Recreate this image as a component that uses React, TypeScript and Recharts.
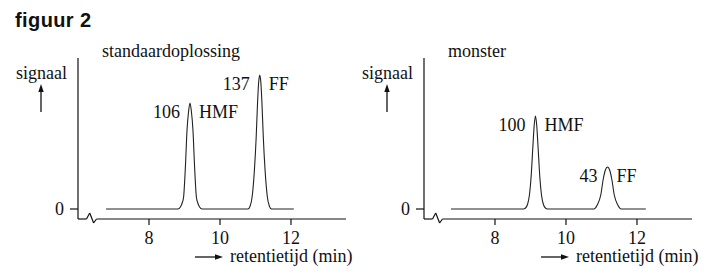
import { LineChart, Line, XAxis, YAxis, ReferenceLine, ReferenceDot } from "recharts"

const SERIF = '"Liberation Serif", "Times New Roman", serif'
const INK = "#111"

const stdTime = [
  6.79, 8.815, 8.885, 8.935, 8.975, 9.028, 9.07, 9.12, 9.155, 9.19, 9.24, 9.282, 9.335, 9.375, 9.425, 9.495,
  10.79, 10.85, 10.905, 10.97, 11.02, 11.058, 11.09, 11.12, 11.15, 11.182, 11.22, 11.27, 11.335, 11.39, 11.45, 12.08,
]
const stdSignal = [
  0, 0, 2, 6, 12, 44, 78, 99, 106, 99, 78, 44, 12, 6, 2, 0,
  0, 3, 12, 39, 72, 106, 127, 134, 127, 106, 72, 39, 12, 3, 0, 0,
]

const monTime = [
  6.76, 8.8, 8.86, 8.92, 8.97, 9.013, 9.07, 9.105, 9.14, 9.175, 9.21, 9.267, 9.31, 9.36, 9.42, 9.48,
  10.785, 10.88, 10.98, 11.05, 11.11, 11.17, 11.23, 11.29, 11.36, 11.46, 11.555, 12.25,
]
const monSignal = [
  0, 0, 1, 5, 14, 30, 64, 84, 93, 84, 64, 30, 14, 5, 1, 0,
  0, 4, 14, 30, 39, 42, 39, 30, 14, 4, 0, 0,
]

const peakNames = ["HMF", "FF"]
const stdPeakValues = [106, 137]
const monPeakValues = [100, 43]

const xTicks = [8, 10, 12]
const yTicks = [0]
const X_DOMAIN: [number, number] = [6, 13.55]
const Y_DOMAIN: [number, number] = [-10, 151]

// x axis line with the little break near the origin
const axisPath = [
  { x: 6, y: -10 },
  { x: 6.24, y: -10 },
  { x: 6.33, y: -4 },
  { x: 6.44, y: -14 },
  { x: 6.52, y: -10 },
  { x: 13.55, y: -10 },
]

function peakTops(signal: number[]) {
  const idx: number[] = []
  for (let i = 1; i < signal.length - 1; i++) {
    if (signal[i] > signal[i - 1] && signal[i] > signal[i + 1]) idx.push(i)
  }
  return idx
}

interface PanelProps {
  left: number
  title: string
  time: number[]
  signal: number[]
  values: number[]
}

function Panel({ left, title, time, signal, values }: PanelProps) {
  const data = time.map((t, i) => ({ t, s: signal[i] }))
  const tops = peakTops(signal)
  const W = 369
  const H = 278

  return (
    <div style={{ position: "absolute", left, top: 0, width: W, height: H }}>
      <LineChart width={W} height={H} data={data} margin={{ top: 58, right: 23, bottom: 29, left: 58 }}>
        <XAxis
          dataKey="t"
          type="number"
          domain={X_DOMAIN}
          allowDataOverflow
          ticks={xTicks}
          interval={0}
          height={30}
          axisLine={false}
          tickLine={{ stroke: INK, strokeWidth: 1.2 }}
          tickSize={6}
          tickMargin={6}
          tick={{ fill: INK, fontSize: 18, fontFamily: SERIF }}
        />
        <YAxis
          type="number"
          domain={Y_DOMAIN}
          allowDataOverflow
          ticks={yTicks}
          width={20}
          axisLine={{ stroke: INK, strokeWidth: 1.2 }}
          tickLine={{ stroke: INK, strokeWidth: 1.2 }}
          tickSize={8}
          tickMargin={6}
          tick={{ fill: INK, fontSize: 18, fontFamily: SERIF }}
        />
        <Line
          type="monotone"
          dataKey="s"
          stroke="#222"
          strokeWidth={1.1}
          dot={false}
          activeDot={false}
          isAnimationActive={false}
        />
        {axisPath.slice(1).map((p, i) => (
          <ReferenceLine
            key={`ax-${i}`}
            segment={[axisPath[i], p]}
            stroke={INK}
            strokeWidth={1.2}
            ifOverflow="visible"
          />
        ))}
        {tops.map((ti, k) => (
          <ReferenceDot
            key={`pk-${k}`}
            x={time[ti]}
            y={signal[ti]}
            r={0}
            ifOverflow="visible"
            shape={(p: any) => (
              <g fontFamily={SERIF} fontSize={18} fill={INK}>
                <text x={p.cx - 10} y={p.cy + 15} textAnchor="end">{values[k]}</text>
                <text x={p.cx + 9} y={p.cy + 15}>{peakNames[k]}</text>
              </g>
            )}
          />
        ))}
      </LineChart>
      <svg
        width={W}
        height={H}
        style={{ position: "absolute", left: 0, top: 0, pointerEvents: "none" }}
        fontFamily={SERIF}
        fontSize={18}
        fill={INK}
      >
        <text x={102} y={57}>{title}</text>
        <text x={16} y={79}>signaal</text>
        <line x1={41} y1={112} x2={41} y2={90} stroke={INK} strokeWidth={1.3} />
        <polygon points="41,84 38.3,92 43.7,92" fill={INK} />
        <line x1={195} y1={257} x2={216} y2={257} stroke={INK} strokeWidth={1.3} />
        <polygon points="223,257 215,254.3 215,259.7" fill={INK} />
        <text x={230} y={262}>retentietijd (min)</text>
      </svg>
    </div>
  )
}

export default function App() {
  return (
    <div style={{ position: "absolute", left: 0, top: 0, width: 715, height: 278, background: "#fff" }}>
      <div
        style={{
          position: "absolute",
          left: 15,
          top: 7,
          fontFamily: '"Liberation Sans", Arial, sans-serif',
          fontWeight: 700,
          fontSize: 20,
          letterSpacing: 0.4,
          color: INK,
          lineHeight: "26px",
        }}
      >
        figuur 2
      </div>
      <Panel left={0} title="standaardoplossing" time={stdTime} signal={stdSignal} values={stdPeakValues} />
      <Panel left={346} title="monster" time={monTime} signal={monSignal} values={monPeakValues} />
    </div>
  )
}
